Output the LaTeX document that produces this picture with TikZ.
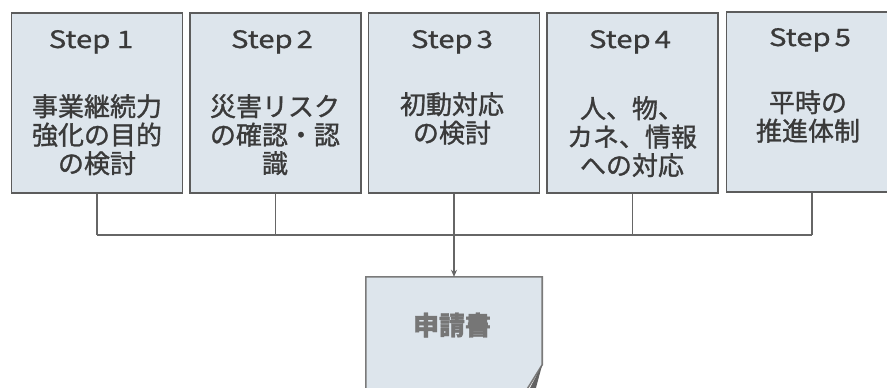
\documentclass[tikz,border=0pt]{standalone}
\usepackage{fontspec}
\setmainfont[FakeBold=1.2]{Noto Sans CJK JP}
\newfontfamily\stepfont[FakeStretch=1.22,FakeBold=0.8]{Noto Sans CJK JP}
\usetikzlibrary{arrows.meta}
\definecolor{boxfill}{HTML}{DDE5EC}
\definecolor{boxline}{HTML}{5C5C5C}
\definecolor{txt}{HTML}{3A3A3A}
\definecolor{conn}{HTML}{666666}
\definecolor{doctxt}{HTML}{767676}
\definecolor{docline}{HTML}{7A7A7A}
\begin{document}
\begin{tikzpicture}[x=1pt,y=-1pt,
  stepbox/.style={draw=boxline, line width=1.8pt, fill=boxfill, minimum width=171pt, minimum height=180pt, inner sep=0pt},
  steptitle/.style={font=\stepfont\fontsize{24}{24}\selectfont, text=txt, inner sep=0pt, anchor=base},
  stepbody/.style={font=\fontsize{26}{28.5}\selectfont, text=txt, align=center, inner sep=0pt, anchor=north},
  conline/.style={draw=conn, line width=1.6pt},
  docshape/.style={draw=docline, line width=1.6pt, fill=boxfill}]
\useasboundingbox (0,0) rectangle (887,388);
\clip (0,0) rectangle (887,388);
\fill[white] (0,0) rectangle (887,388);
% step boxes
\node[stepbox] (s1) at (97,103) {};
\node[stepbox] (s2) at (275.5,103) {};
\node[stepbox] (s3) at (454,103) {};
\node[stepbox] (s4) at (632.5,103) {};
\node[stepbox] (s5) at (812,102) {};
% titles
\node[steptitle] (t1) at (91,48) {Step 1};
\node[steptitle] (t2) at (272,48) {Step\,2};
\node[steptitle] (t3) at (452,48) {Step\,3};
\node[steptitle] (t4) at (630,48) {Step\,4};
\node[steptitle] (t5) at (810,46) {Step\,5};
% bodies
\node[stepbody] (b1) at (97,94) {事業継続力\\強化の目的\\の検討};
\node[stepbody] (b2) at (275,94) {災害リスク\\の確認・認\\識};
\node[stepbody] (b3) at (452,92) {初動対応\\の検討};
\node[stepbody] (b4) at (632,96) {人、物、\\カネ、情報\\への対応};
\node[stepbody] (b5) at (808,90) {平時の\\推進体制};
% connectors
\coordinate (j1) at (97,235);
\coordinate (j2) at (275.5,235);
\coordinate (j3) at (454,235);
\coordinate (j4) at (632.5,235);
\coordinate (j5) at (812,235);
\draw[conline] (s1.south) -- (j1);
\draw[conline] (s2.south) -- (j2);
\draw[conline] (s3.south) -- (j3);
\draw[conline] (s4.south) -- (j4);
\draw[conline] (s5.south) -- (j5);
\draw[conline] (j1) -- (j5);
% document
\node[minimum width=176pt, minimum height=115pt, inner sep=0pt] (doc) at (454,334.5) {};
\draw[docshape] (doc.north west) -- (doc.north east) -- ([yshift=-88pt]doc.north east) -- ([xshift=-17pt]doc.south east) -- (doc.south west) -- cycle;
\fill[docline!80!black] ([yshift=-88pt]doc.north east) -- ([xshift=-16pt,yshift=-3pt]doc.south east) .. controls ([xshift=-14pt,yshift=-12pt]doc.south east) .. ([xshift=-12pt,yshift=-17pt]doc.south east) -- cycle;
\node[font=\bfseries\fontsize{26}{26}\selectfont, text=doctxt, inner sep=0pt] (dt) at (452,325) {申請書};
\draw[conline, -{Stealth[length=7pt,width=6pt]}] (j3) -- (doc.north);
\end{tikzpicture}
\end{document}
